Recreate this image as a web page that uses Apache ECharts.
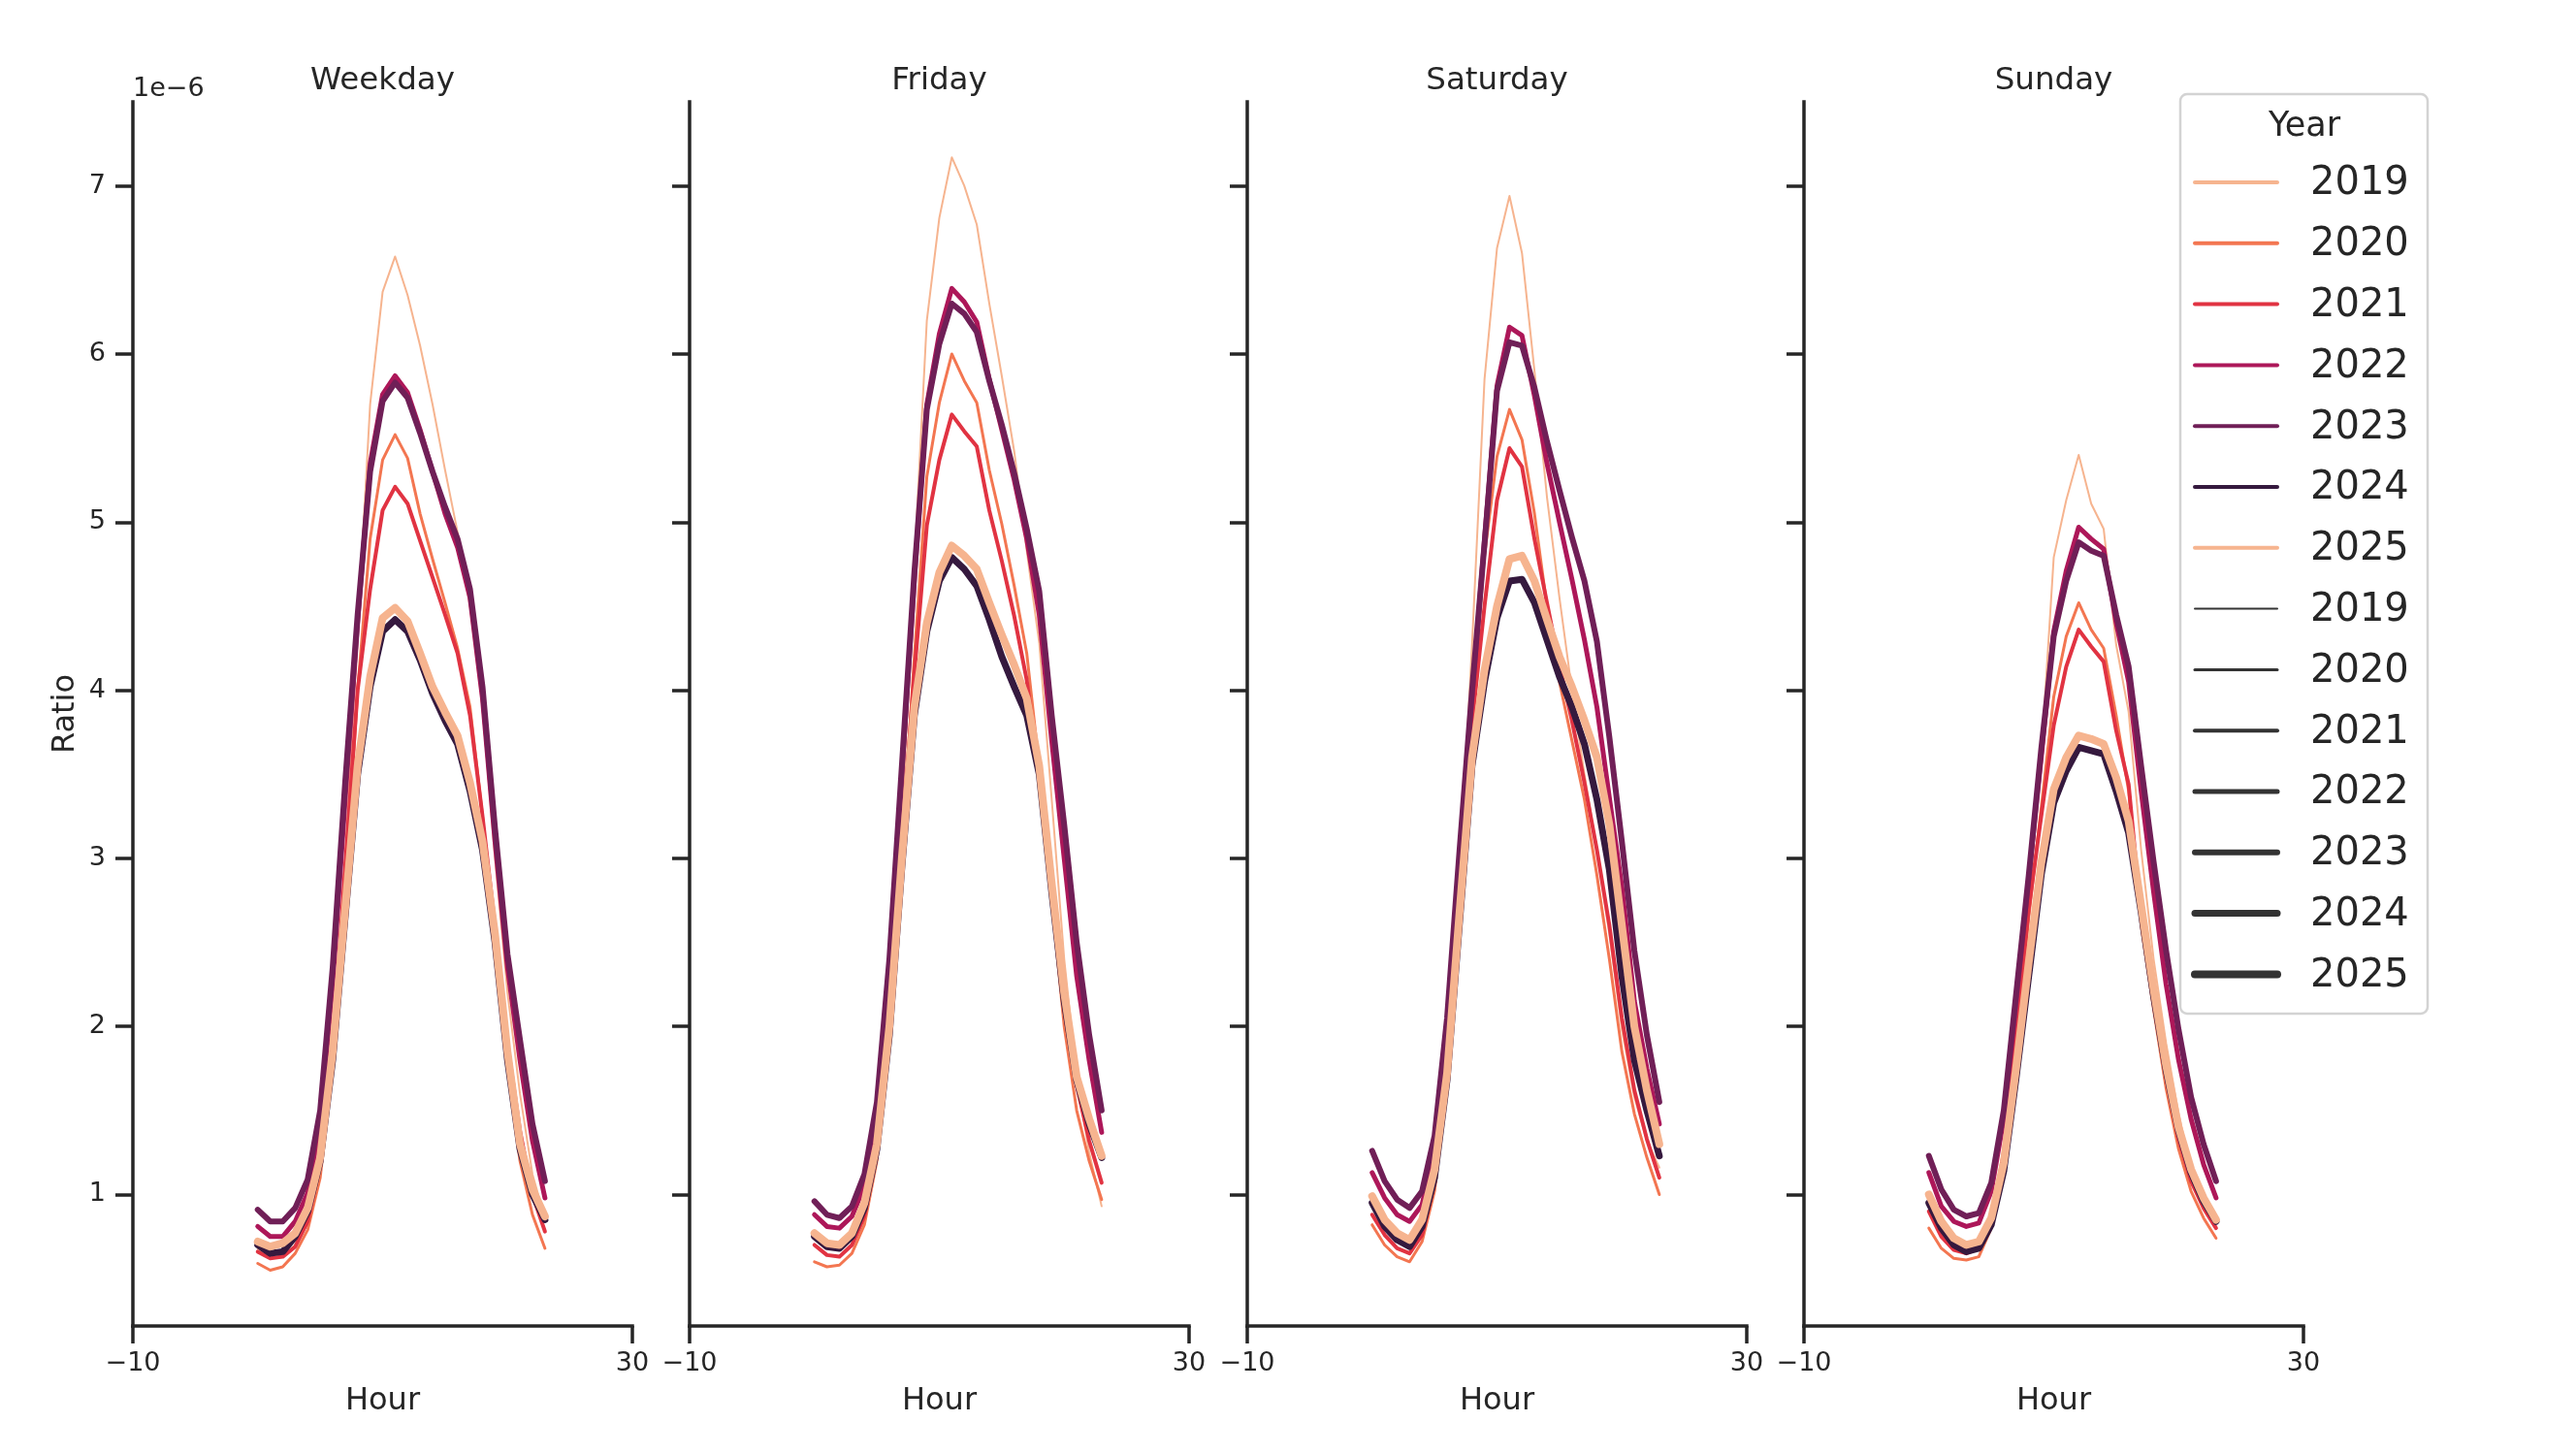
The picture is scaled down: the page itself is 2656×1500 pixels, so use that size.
<!DOCTYPE html>
<html>
<head>
<meta charset="utf-8">
<title>Ratio by hour</title>
<script src="https://cdn.jsdelivr.net/npm/echarts@6/dist/echarts.min.js"></script>
<style>
  html, body { margin: 0; padding: 0; background: #ffffff; }
  #chart { width: 2656px; height: 1500px; }
</style>
</head>
<body>
<div id="chart"></div>
<script>
// categories
const hours = [0,1,2,3,4,5,6,7,8,9,10,11,12,13,14,15,16,17,18,19,20,21,22,23];
const years = ['2019','2020','2021','2022','2023','2024','2025'];
const panels = ['Weekday','Friday','Saturday','Sunday'];
const xTicks = [-10, 30];
const yTicks = [1, 2, 3, 4, 5, 6, 7];

// ratio values, in units of 1e-6
const wd2019 = [0.68,0.62,0.63,0.70,0.85,1.20,1.90,3.00,4.35,5.70,6.37,6.58,6.35,6.05,5.70,5.31,4.94,4.50,3.90,3.00,2.20,1.60,1.12,0.86];
const wd2020 = [0.59,0.55,0.57,0.65,0.79,1.10,1.75,2.80,4.00,4.90,5.37,5.52,5.38,5.05,4.78,4.52,4.25,3.90,3.25,2.50,1.75,1.20,0.88,0.68];
const wd2021 = [0.66,0.62,0.63,0.69,0.84,1.18,1.85,2.95,4.00,4.60,5.07,5.21,5.11,4.89,4.67,4.45,4.22,3.85,3.25,2.60,1.90,1.38,1.00,0.78];
const wd2022 = [0.81,0.75,0.75,0.84,1.01,1.42,2.25,3.35,4.40,5.35,5.76,5.87,5.77,5.55,5.30,5.05,4.85,4.55,3.95,3.10,2.35,1.80,1.32,0.98];
const wd2023 = [0.91,0.84,0.84,0.92,1.09,1.50,2.35,3.45,4.45,5.30,5.72,5.83,5.74,5.53,5.30,5.09,4.90,4.60,4.02,3.18,2.43,1.92,1.42,1.08];
const wd2024 = [0.70,0.65,0.66,0.75,0.90,1.20,1.80,2.65,3.50,4.02,4.35,4.42,4.35,4.18,3.98,3.82,3.68,3.40,3.05,2.50,1.80,1.27,1.00,0.85];
const wd2025 = [0.72,0.69,0.71,0.77,0.92,1.22,1.85,2.70,3.55,4.08,4.43,4.49,4.41,4.22,4.02,3.87,3.73,3.45,3.10,2.55,1.85,1.30,1.03,0.87];

const fr2019 = [0.76,0.70,0.69,0.75,0.90,1.25,2.00,3.20,4.75,6.20,6.81,7.17,7.00,6.77,6.30,5.87,5.42,4.83,4.28,3.35,2.40,1.70,1.25,0.93];
const fr2020 = [0.60,0.57,0.58,0.65,0.82,1.20,1.95,3.05,4.20,5.27,5.71,6.00,5.84,5.71,5.31,4.99,4.62,4.22,3.55,2.75,2.00,1.50,1.20,0.97];
const fr2021 = [0.70,0.64,0.63,0.70,0.87,1.25,2.00,3.10,4.10,4.98,5.37,5.64,5.54,5.45,5.07,4.77,4.44,4.06,3.50,2.80,2.10,1.65,1.32,1.07];
const fr2022 = [0.88,0.81,0.80,0.87,1.05,1.48,2.35,3.50,4.65,5.70,6.12,6.39,6.31,6.19,5.85,5.55,5.25,4.90,4.45,3.70,3.00,2.30,1.80,1.37];
const fr2023 = [0.96,0.88,0.86,0.93,1.12,1.55,2.40,3.55,4.70,5.67,6.06,6.30,6.24,6.13,5.84,5.58,5.29,4.96,4.59,3.85,3.20,2.50,1.95,1.50];
const fr2024 = [0.75,0.69,0.68,0.75,0.92,1.27,1.95,2.95,3.85,4.35,4.65,4.79,4.72,4.62,4.42,4.20,4.02,3.85,3.50,2.80,2.15,1.68,1.42,1.22];
const fr2025 = [0.77,0.71,0.70,0.77,0.95,1.30,2.00,3.00,3.90,4.40,4.70,4.86,4.80,4.72,4.52,4.33,4.15,3.95,3.55,2.85,2.20,1.70,1.45,1.23];

const sa2019 = [0.93,0.80,0.72,0.68,0.78,1.08,1.75,2.85,4.27,5.85,6.63,6.94,6.60,5.90,5.15,4.55,4.00,3.50,3.05,2.55,1.98,1.58,1.32,1.16];
const sa2020 = [0.82,0.70,0.63,0.60,0.72,1.02,1.65,2.70,3.85,4.80,5.39,5.67,5.49,5.05,4.50,4.05,3.70,3.35,2.90,2.40,1.85,1.48,1.22,1.00];
const sa2021 = [0.88,0.76,0.68,0.65,0.76,1.07,1.70,2.75,3.80,4.50,5.13,5.44,5.33,4.90,4.52,4.15,3.82,3.45,3.05,2.60,2.05,1.62,1.33,1.10];
const sa2022 = [1.13,0.98,0.88,0.84,0.94,1.27,1.98,3.00,3.95,4.90,5.81,6.16,6.11,5.75,5.35,5.00,4.66,4.30,3.90,3.36,2.83,2.15,1.75,1.42];
const sa2023 = [1.26,1.08,0.97,0.92,1.02,1.35,2.05,3.05,4.00,4.87,5.78,6.07,6.05,5.80,5.48,5.19,4.91,4.65,4.29,3.72,3.10,2.45,1.95,1.55];
const sa2024 = [0.95,0.81,0.73,0.69,0.81,1.10,1.68,2.62,3.55,4.05,4.43,4.65,4.66,4.52,4.30,4.08,3.90,3.68,3.35,2.93,2.30,1.80,1.50,1.23];
const sa2025 = [0.99,0.85,0.77,0.73,0.85,1.15,1.72,2.68,3.60,4.12,4.50,4.78,4.80,4.65,4.42,4.20,4.02,3.82,3.60,3.20,2.60,2.00,1.62,1.30];

const su2019 = [0.97,0.81,0.71,0.67,0.70,0.86,1.25,1.95,2.75,3.60,4.79,5.13,5.40,5.11,4.96,4.27,3.87,3.05,2.40,1.90,1.48,1.15,0.93,0.80];
const su2020 = [0.80,0.68,0.62,0.61,0.63,0.80,1.20,1.90,2.65,3.30,3.96,4.32,4.52,4.36,4.25,3.85,3.40,2.60,2.10,1.63,1.27,1.02,0.86,0.74];
const su2021 = [0.90,0.75,0.67,0.65,0.68,0.84,1.25,1.95,2.70,3.25,3.79,4.14,4.36,4.26,4.17,3.76,3.44,2.65,2.15,1.70,1.33,1.08,0.92,0.80];
const su2022 = [1.13,0.93,0.84,0.81,0.83,1.02,1.45,2.15,2.88,3.60,4.35,4.71,4.97,4.90,4.84,4.40,4.05,3.40,2.80,2.25,1.80,1.45,1.18,0.98];
const su2023 = [1.23,1.03,0.91,0.87,0.89,1.07,1.50,2.20,2.90,3.65,4.32,4.65,4.88,4.83,4.80,4.45,4.14,3.55,2.98,2.45,1.98,1.58,1.30,1.08];
const su2024 = [0.95,0.80,0.70,0.66,0.68,0.82,1.14,1.70,2.30,2.90,3.33,3.52,3.66,3.64,3.62,3.40,3.15,2.68,2.18,1.74,1.38,1.13,0.96,0.84];
const su2025 = [1.00,0.84,0.74,0.70,0.72,0.86,1.19,1.76,2.38,2.97,3.41,3.60,3.73,3.71,3.68,3.48,3.22,2.72,2.22,1.77,1.40,1.15,0.98,0.85];

const panelData = [
    [wd2019, wd2020, wd2021, wd2022, wd2023, wd2024, wd2025],
    [fr2019, fr2020, fr2021, fr2022, fr2023, fr2024, fr2025],
    [sa2019, sa2020, sa2021, sa2022, sa2023, sa2024, sa2025],
    [su2019, su2020, su2021, su2022, su2023, su2024, su2025]
];

// styles
const lineColors = ['#f6b48f', '#f37651', '#e13342', '#ad1759', '#701f57', '#35193e', '#f6b48f'];
const lineWidths = [2, 3, 4, 5, 6, 7, 8];
const ink = '#262626';
const fontFamily = '"DejaVu Sans", Verdana, sans-serif';

// layout (px)
const gridLeft = [137, 711, 1286, 1860];
const gridTop = 105;
const gridWidth = 515;
const gridHeight = 1262;

const chart = echarts.init(document.getElementById('chart'));

function fmtTick(v) {
    return v < 0 ? '\u2212' + Math.abs(v) : String(v);
}

let grids = [], xAxes = [], yAxes = [], series = [], graphics = [];

panels.forEach(function(name, i) {
    grids.push({
        left: gridLeft[i], top: gridTop, width: gridWidth, height: gridHeight,
        containLabel: false, outerBoundsMode: 'none'
    });
    xAxes.push({
        gridIndex: i,
        type: 'value',
        min: -10,
        max: 30,
        axisLine: {show: true, onZero: false, lineStyle: {color: ink, width: 3.5, cap: 'square'}},
        axisTick: {show: true, length: 18, customValues: xTicks, lineStyle: {color: ink, width: 3.5}},
        axisLabel: {
            customValues: xTicks, formatter: fmtTick, margin: 25,
            fontSize: 27, color: ink, fontFamily: fontFamily
        },
        splitLine: {show: false},
        name: 'Hour',
        nameLocation: 'middle',
        nameGap: 62,
        nameMoveOverlap: false,
        nameTextStyle: {fontSize: 32, color: ink, fontFamily: fontFamily}
    });
    yAxes.push({
        gridIndex: i,
        type: 'value',
        min: 0.218,
        max: 7.5,
        axisLine: {show: true, onZero: false, lineStyle: {color: ink, width: 3.5, cap: 'square'}},
        axisTick: {show: true, length: 18, customValues: yTicks, lineStyle: {color: ink, width: 3.5}},
        axisLabel: {
            show: i === 0, customValues: yTicks, margin: 28,
            fontSize: 27, color: ink, fontFamily: fontFamily
        },
        splitLine: {show: false},
        name: i === 0 ? 'Ratio' : '',
        nameLocation: 'middle',
        nameGap: 53,
        nameMoveOverlap: false,
        nameTextStyle: {fontSize: 32, color: ink, fontFamily: fontFamily}
    });

    years.forEach(function(yr, k) {
        series.push({
            name: yr,
            type: 'line',
            xAxisIndex: i,
            yAxisIndex: i,
            data: hours.map(function(h, j) { return [h, panelData[i][k][j]]; }),
            symbol: 'none',
            showSymbol: false,
            silent: true,
            animation: false,
            z: 2,
            lineStyle: {color: lineColors[k], width: lineWidths[k], join: 'round', cap: 'round'}
        });
    });

    // facet title
    graphics.push({
        type: 'text',
        x: gridLeft[i] + gridWidth / 2,
        y: 84,
        style: {
            text: name, font: '32.5px ' + fontFamily, fill: ink,
            align: 'center', verticalAlign: 'middle',
            textAlign: 'center', textVerticalAlign: 'middle'
        }
    });
});

// offset text of the y axis
graphics.push({
    type: 'text', x: 137, y: 92,
    style: {
        text: '1e\u22126', font: '27px ' + fontFamily, fill: ink,
        align: 'left', verticalAlign: 'middle', textAlign: 'left', textVerticalAlign: 'middle'
    }
});

// legend: colour by year, then width by year
const legX = 2248, legY = 97, legW = 255, legH = 948;
const rowY0 = 188, rowStep = 62.8;
graphics.push({
    type: 'rect', z: 100,
    shape: {x: legX, y: legY, width: legW, height: legH, r: 7},
    style: {fill: 'rgba(255,255,255,0.8)', stroke: '#d3d3d3', lineWidth: 2.5}
});
graphics.push({
    type: 'text', z: 101, x: 2376, y: 131,
    style: {
        text: 'Year', font: '35px ' + fontFamily, fill: ink,
        align: 'center', verticalAlign: 'middle', textAlign: 'center', textVerticalAlign: 'middle'
    }
});
const legendRows = years.map(function(yr, k) { return {label: yr, color: lineColors[k], width: 4}; })
    .concat(years.map(function(yr, k) { return {label: yr, color: '#333333', width: lineWidths[k]}; }));
legendRows.forEach(function(row, r) {
    const y = rowY0 + rowStep * r;
    graphics.push({
        type: 'line', z: 101,
        shape: {x1: 2263, y1: y, x2: 2348, y2: y},
        style: {stroke: row.color, lineWidth: row.width, lineCap: 'round'}
    });
    graphics.push({
        type: 'text', z: 101, x: 2382, y: y + 2,
        style: {
            text: row.label, font: '40px ' + fontFamily, fill: ink,
            align: 'left', verticalAlign: 'middle', textAlign: 'left', textVerticalAlign: 'middle'
        }
    });
});

chart.setOption({
    backgroundColor: '#ffffff',
    animation: false,
    grid: grids,
    xAxis: xAxes,
    yAxis: yAxes,
    series: series,
    graphic: graphics
});
</script>
</body>
</html>
